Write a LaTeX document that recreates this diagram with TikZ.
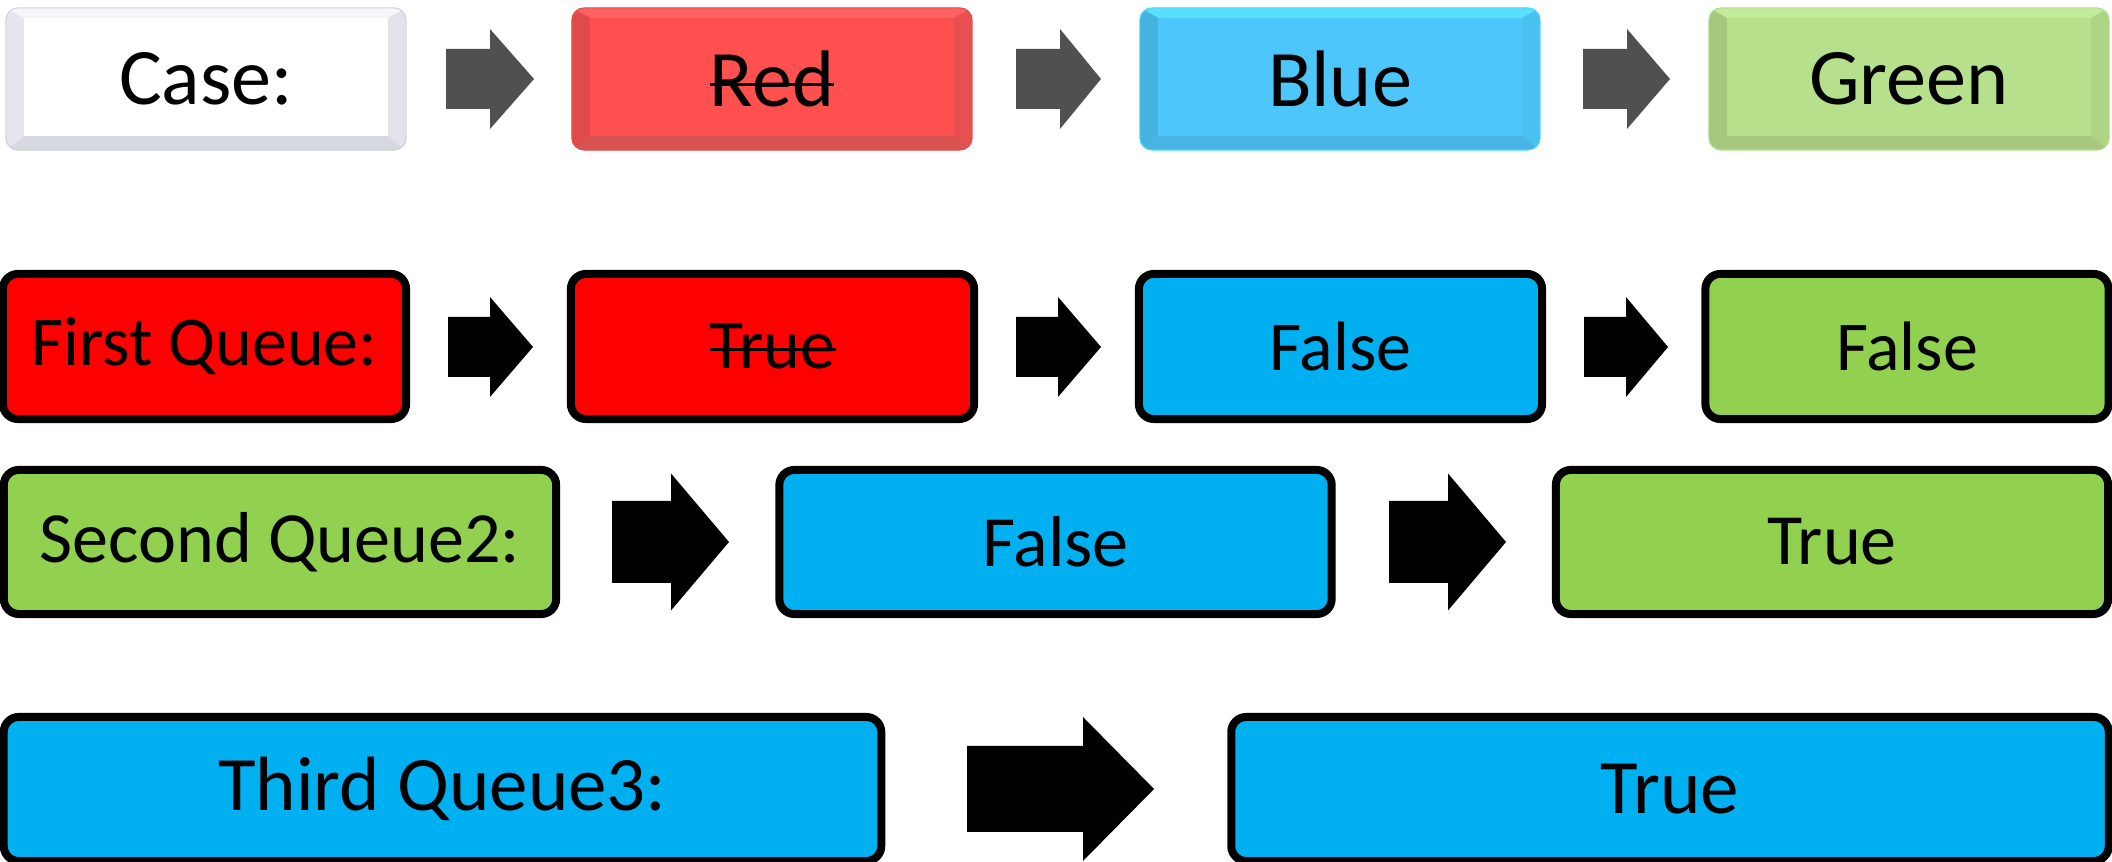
\documentclass[tikz,border=0pt]{standalone}
\usepackage{fontspec}
\setmainfont{Carlito}
\definecolor{qred}{HTML}{FF0000}
\definecolor{qblue}{HTML}{00B0F0}
\definecolor{qgreen}{HTML}{92D050}
\definecolor{arrgray}{HTML}{505050}
% top-row palettes: base, left, bottom, right, top, outline
\definecolor{wbase}{HTML}{FFFFFF}\definecolor{wl}{HTML}{E6E6EE}\definecolor{wb}{HTML}{D8D8E2}\definecolor{wr}{HTML}{E2E2EA}\definecolor{wt}{HTML}{F6F6FA}\definecolor{wo}{HTML}{D0D0D8}
\definecolor{rbase}{HTML}{FF5050}\definecolor{rl}{HTML}{E04A4A}\definecolor{rb}{HTML}{D85252}\definecolor{rr}{HTML}{E85050}\definecolor{rt}{HTML}{FF6262}\definecolor{ro}{HTML}{E05050}
\definecolor{bbase}{HTML}{4DC7FB}\definecolor{bl}{HTML}{45B2E0}\definecolor{bb}{HTML}{48B4E4}\definecolor{br}{HTML}{4AC0F0}\definecolor{bt}{HTML}{58E0FF}\definecolor{bo}{HTML}{50D8FF}
\definecolor{gbase}{HTML}{B6E08B}\definecolor{gl}{HTML}{A4C97E}\definecolor{gb}{HTML}{A8C880}\definecolor{gr}{HTML}{ADD585}\definecolor{gt}{HTML}{C4EC98}\definecolor{go}{HTML}{B0E090}
\tikzset{
  topbox/.style={rounded corners=0.12cm, minimum width=4cm, minimum height=1.42cm,
    inner sep=0pt, outer sep=0pt, font=\fontsize{22.8}{26}\selectfont},
  qbox/.style={draw=black, line width=0.08cm, rounded corners=0.15cm,
    inner sep=0pt, outer sep=0pt},
  row2/.style={qbox, minimum width=4.03cm, minimum height=1.45cm, font=\fontsize{19.9}{23}\selectfont},
  row3/.style={qbox, minimum width=5.52cm, minimum height=1.44cm, font=\fontsize{20.5}{24}\selectfont},
  row4/.style={qbox, minimum width=8.77cm, minimum height=1.44cm, font=\fontsize{21.9}{25}\selectfont},
  strike/.style={line width=0.03cm, draw=black},
}
% \blockarrow{fill}{x0}{xhead}{x1}{yc}{shaft half}{head half}
\newcommand{\blockarrow}[7]{%
  \fill[#1] (#2,#5-#6) -- (#3,#5-#6) -- (#3,#5-#7) -- (#4,#5) -- (#3,#5+#7)
    -- (#3,#5+#6) -- (#2,#5+#6) -- cycle;}
% \bevel{node}{left}{bottom}{right}{top}{outline}
\newcommand{\bevel}[6]{%
  \begin{scope}
    \clip[rounded corners=0.12cm] (#1.north west) rectangle (#1.south east);
    \fill[#5] (#1.north west) -- ([shift={(18,10)}]#1.north west) -- ([shift={(-18,10)}]#1.north east) -- (#1.north east) -- cycle;
    \fill[#4] (#1.north east) -- ([shift={(-18,10)}]#1.north east) -- ([shift={(-18,-14)}]#1.south east) -- (#1.south east) -- cycle;
    \fill[#3] (#1.south west) -- ([shift={(18,-14)}]#1.south west) -- ([shift={(-18,-14)}]#1.south east) -- (#1.south east) -- cycle;
    \fill[#2] (#1.north west) -- ([shift={(18,10)}]#1.north west) -- ([shift={(18,-14)}]#1.south west) -- (#1.south west) -- cycle;
  \end{scope}
  \draw[#6, line width=0.3pt, rounded corners=0.12cm] (#1.north west) rectangle (#1.south east);}
\begin{document}
\begin{tikzpicture}[x=0.01cm,y=-0.01cm]
\useasboundingbox (0,0) rectangle (2112,862);

% ---- top row ----
\node[topbox, fill=wbase] (case) at (206,79) {};
\bevel{case}{wl}{wb}{wr}{wt}{wo}
\node[font=\fontsize{22.8}{26}\selectfont, inner sep=0pt] (caset) at (case.center) {Case:};
\node[topbox, fill=rbase] (red) at (772,79) {};
\bevel{red}{rl}{rb}{rr}{rt}{ro}
\node[font=\fontsize{22.8}{26}\selectfont, inner sep=0pt] (redt) at (red.center) {Red};
\draw[strike] ([shift={(-62,6)}]red.center) -- ([shift={(62,6)}]red.center);
\node[topbox, fill=bbase] (blue) at (1340,79) {};
\bevel{blue}{bl}{bb}{br}{bt}{bo}
\node[font=\fontsize{22.8}{26}\selectfont, inner sep=0pt] (bluet) at (blue.center) {Blue};
\node[topbox, fill=gbase] (green) at (1909,79) {};
\bevel{green}{gl}{gb}{gr}{gt}{go}
\node[font=\fontsize{22.8}{26}\selectfont, inner sep=0pt] (greent) at (green.center) {Green};

\blockarrow{arrgray}{446}{490}{534}{79}{30}{50}
\blockarrow{arrgray}{1016}{1060}{1101}{79}{30}{50}
\blockarrow{arrgray}{1583}{1627}{1670}{79}{30}{50}

% ---- first queue ----
\node[row2, fill=qred] (fq) at (204.5,346.5) {First Queue:};
\node[row2, fill=qred] (fqa) at (772.5,346.5) {True};
\draw[strike] ([shift={(-63,3.5)}]fqa.center) -- ([shift={(63,3.5)}]fqa.center);
\node[row2, fill=qblue] (fqb) at (1340.5,346.5) {False};
\node[row2, fill=qgreen] (fqc) at (1907,346.5) {False};
\blockarrow{black}{448}{490}{533}{347}{30}{50}
\blockarrow{black}{1016}{1058}{1101}{347}{30}{50}
\blockarrow{black}{1584}{1626}{1668}{347}{30}{50}

% ---- second queue ----
\node[row3, fill=qgreen] (sq) at (280,542) {Second Queue2:};
\node[row3, fill=qblue] (sqa) at (1055.5,542) {False};
\node[row3, fill=qgreen] (sqb) at (1832,542) {True};
\blockarrow{black}{612}{671}{729}{542}{41}{68.5}
\blockarrow{black}{1389}{1448}{1506}{542}{41}{68.5}

% ---- third queue ----
\node[row4, fill=qblue] (tq) at (442.5,789) {Third Queue3:};
\node[row4, fill=qblue] (tqa) at (1670,789) {True};
\blockarrow{black}{967}{1083}{1154}{789}{43}{72}
\end{tikzpicture}
\end{document}
